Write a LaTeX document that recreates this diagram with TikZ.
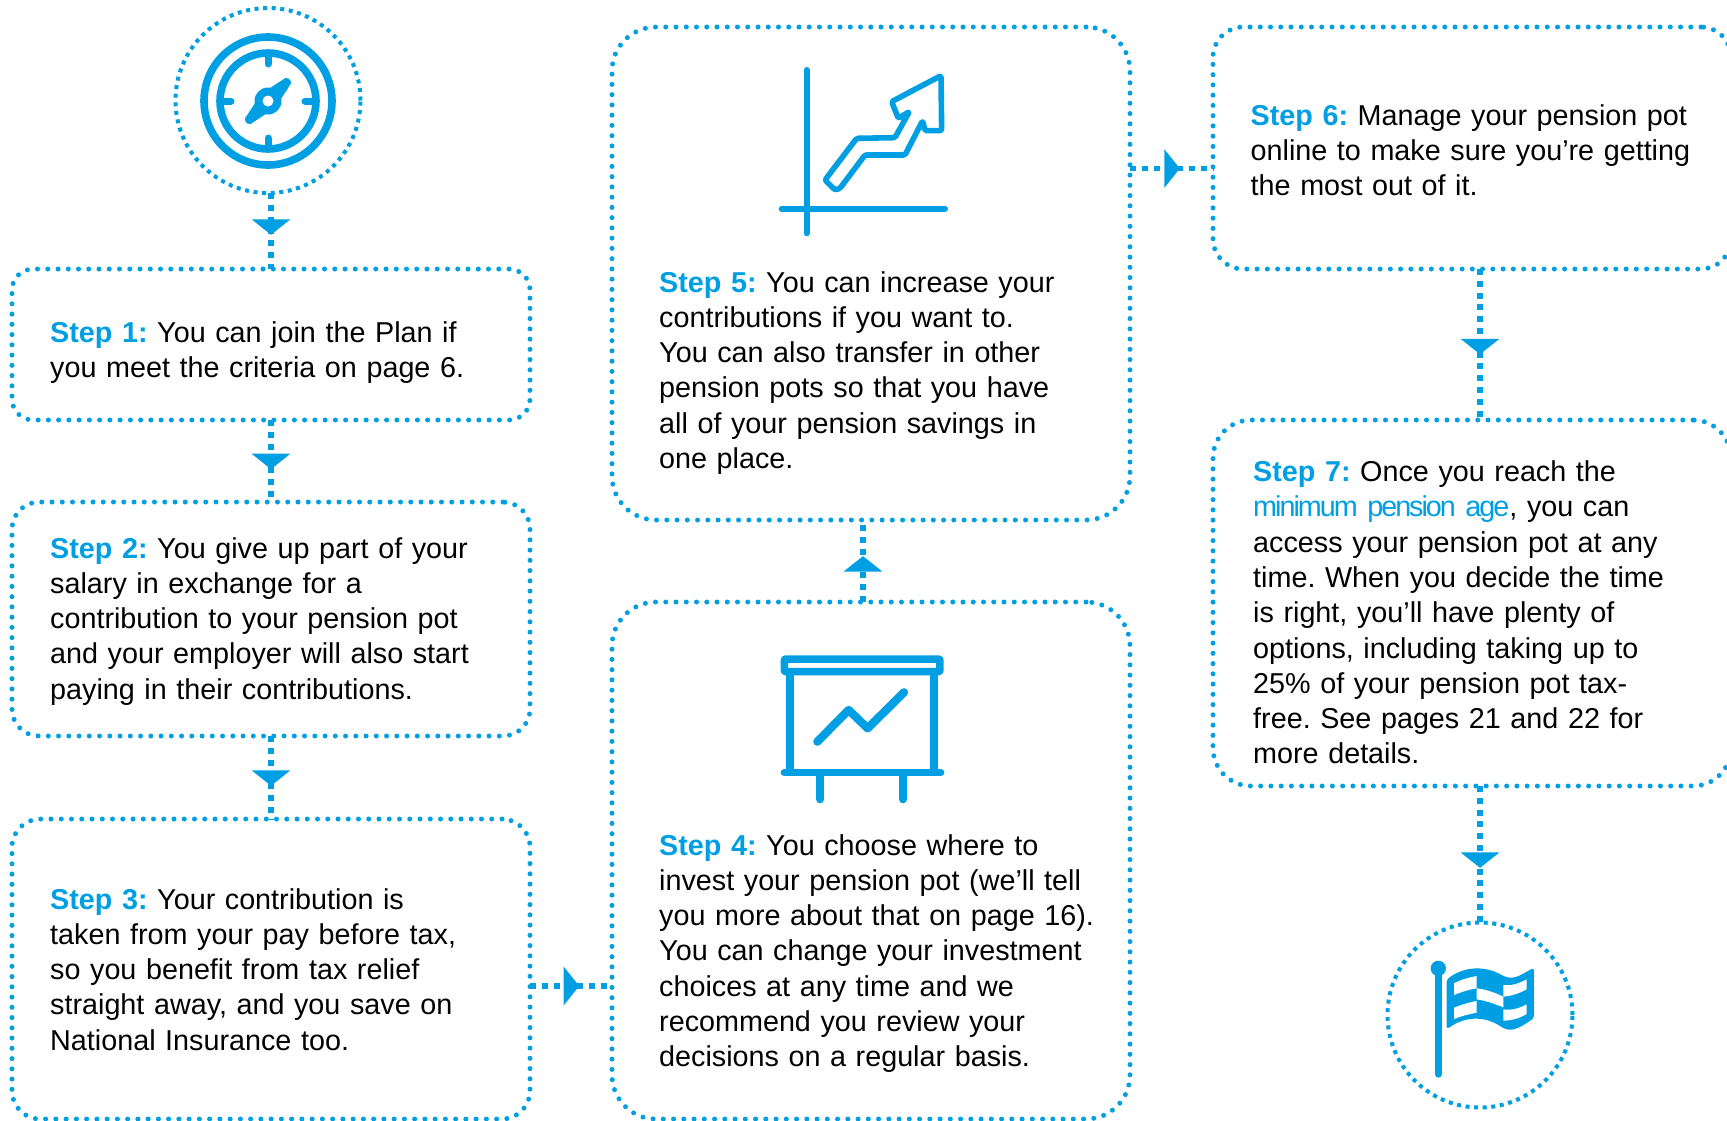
\documentclass[tikz,border=0pt]{standalone}
\usepackage{fontspec}
\setmainfont{Liberation Sans}
\newfontfamily\tightfont[LetterSpace=-7]{Liberation Sans}
\usetikzlibrary{arrows.meta,decorations.markings}
\definecolor{pblue}{RGB}{0,159,227}
\newcommand{\stp}[1]{{\bfseries\color{pblue}Step #1:}}
\tikzset{
  flowhead/.tip={Triangle[width=38pt,length=15.5pt]},
  box/.style={draw=pblue,rectangle,rounded corners=#1,line width=5pt,line cap=round,
    dash pattern=on 0pt off 10.25pt,inner sep=0pt,outer sep=0pt,anchor=north west},
  ring/.style={draw=pblue,circle,line width=4pt,dash pattern=on 4pt off 4.6pt,
    minimum size=185pt,inner sep=0pt,outer sep=0pt},
  conn/.style={draw=pblue,line width=5.8pt,dash pattern=on 6pt off 5.8pt,
    postaction={decorate,decoration={markings,mark=at position #1 with {\arrow{flowhead}}}}},
  txt/.style={anchor=base west,inner sep=0pt,text width=500pt,align=left,
    font=\fontsize{28.75}{35.3}\selectfont\frenchspacing,text=black},
  ico/.style={draw=pblue,line cap=round,line join=round,line width=#1},
}
\begin{document}
\begin{tikzpicture}[x=1pt,y=-1pt]
\useasboundingbox (0,0) rectangle (1727,1120);
\clip (0,0) rectangle (1727,1120);
% boxes
\node[box=21pt,minimum width=518pt,minimum height=151pt] (b1) at (12,269) {};
\node[box=27pt,minimum width=518pt,minimum height=234pt] (b2) at (12,502) {};
\node[box=28pt,minimum width=518pt,minimum height=300pt] (b3) at (12,819) {};
\node[box=44pt,minimum width=518pt,minimum height=517pt] (b4) at (612,602) {};
\node[box=44pt,minimum width=518pt,minimum height=493pt] (b5) at (612,27) {};
\node[box=30pt,minimum width=518pt,minimum height=242pt] (b6) at (1213,27) {};
\node[box=38pt,minimum width=518pt,minimum height=366pt] (b7) at (1213,420) {};
\node[ring] (c1) at (268,100.5) {};
\node[ring] (c2) at (1480,1015) {};
% connectors
\coordinate (a34) at (530,986);
\coordinate (a56) at (1130,168.5);
\coordinate (a45) at (863,602);
\draw[conn=0.55] (b1.north |- c1.south) -- (b1.north);
\draw[conn=0.60] (b1.south) -- (b2.north);
\draw[conn=0.60] (b2.south) -- (b3.north);
\draw[conn=0.60] (a34) -- (a34 -| b4.west);
\draw[conn=0.56] (a45) -- (a45 |- b5.south);
\draw[conn=0.60] (a56) -- (a56 -| b6.west);
\draw[conn=0.565] (c2.north |- b6.south) -- (c2.north |- b7.north);
\draw[conn=0.60] (c2.north |- b7.south) -- (c2.north);
% text
\node[txt] (t1) at (50,342) {\stp{1} You can join the Plan if\\you meet the criteria on page 6.};
\node[txt] (t2) at (50,558) {\stp{2} You give up part of your\\salary in exchange for a\\contribution to your pension pot\\and your employer will also start\\paying in their contributions.};
\node[txt] (t3) at (50,909) {\stp{3} Your contribution is\\taken from your pay before tax,\\so you benefit from tax relief\\straight away, and you save on\\National Insurance too.};
\node[txt] (t4) at (659,855) {\stp{4} You choose where to\\invest your pension pot (we’ll tell\\you more about that on page 16).\\You can change your investment\\choices at any time and we\\recommend you review your\\decisions on a regular basis.};
\node[txt] (t5) at (659,292) {\stp{5} You can increase your\\contributions if you want to.\\You can also transfer in other\\pension pots so that you have\\all of your pension savings in\\one place.};
\node[txt] (t6) at (1250.5,125) {\stp{6} Manage your pension pot\\online to make sure you’re getting\\the most out of it.};
\node[txt] (t7) at (1253,481.5) {\stp{7} Once you reach the\\{\tightfont\color{pblue}minimum pension age}, you can\\access your pension pot at any\\time. When you decide the time\\is right, you’ll have plenty of\\options, including taking up to\\25\% of your pension pot tax-\\free. See pages 21 and 22 for\\more details.};
% compass icon
\begin{scope}[shift={(268,101)}]
\draw[ico=7.6pt] (0,0) circle (64);
\draw[ico=7.6pt] (0,0) circle (48);
\draw[ico=7pt] (0,-48)--(0,-37) (0,48)--(0,37) (-48,0)--(-37,0) (48,0)--(37,0);
\fill[pblue] (0,0) circle (13.5);
\fill[pblue,rounded corners=2pt] (-7,-7) -- (19,-24) -- (24,-19) -- (7,7) -- cycle;
\fill[pblue,rounded corners=2pt] (-7,-7) -- (-24,19) -- (-19,24) -- (7,7) -- cycle;
\fill[white] (0,0) circle (5.5);
\end{scope}
% chart icon
\begin{scope}[shift={(750,40)},x=0.3333pt,y=-0.3333pt]
\draw[ico=6pt] (170,90)--(170,580);
\draw[ico=6pt] (95,506)--(585,506);
\draw[ico=5.6pt,rounded corners=1.5pt] (225,420) -- (320,295) -- (435,293) -- (478,215) -- (445,235) -- (425,185) -- (573,107) -- (575,272) -- (525,272) -- (518,242) -- (465,345) -- (345,345) -- (270,445) -- (255,450) -- cycle;
\end{scope}
% presentation icon
\begin{scope}[shift={(750,630)},x=0.3333pt,y=-0.3333pt]
\draw[ico=7.5pt,line cap=butt,rounded corners=1pt] (103,87) rectangle (570,125);
\draw[ico=7.5pt,line cap=butt] (120,130)--(120,425) (552,130)--(552,425);
\draw[ico=7.5pt] (103,428)--(572,428);
\draw[ico=8pt] (211,432)--(211,508) (459,432)--(459,508);
\draw[ico=8.3pt] (202,335)--(296,240)--(353,295)--(462,187);
\end{scope}
% flag icon
\begin{scope}[shift={(1360,900)},x=0.3333pt,y=-0.3333pt]
\draw[ico=7.5pt] (235,205)--(235,522);
\fill[pblue] (235,205) circle (23);
\fill[pblue,rounded corners=3pt] (260,238) .. controls (320,195) and (380,200) .. (430,228) .. controls (465,240) and (490,220) .. (522,203) -- (522,355) .. controls (490,375) and (465,395) .. (430,385) .. controls (380,350) and (320,345) .. (260,388) -- cycle;
\fill[white] (282,250) .. controls (305,238) and (328,232) .. (350,228) -- (350,265) .. controls (328,268) and (305,276) .. (282,285) -- cycle;
\fill[white] (350,265) .. controls (378,268) and (405,278) .. (430,290) -- (430,322) .. controls (405,312) and (378,302) .. (350,298) -- cycle;
\fill[white] (430,255) .. controls (455,258) and (478,250) .. (500,238) -- (500,268) .. controls (478,280) and (455,288) .. (430,290) -- cycle;
\fill[white] (282,323) .. controls (305,314) and (328,307) .. (350,303) -- (350,338) .. controls (328,342) and (305,348) .. (282,357) -- cycle;
\fill[white] (430,328) .. controls (455,332) and (478,325) .. (500,313) -- (500,342) .. controls (478,355) and (455,362) .. (430,362) -- cycle;
\end{scope}
\end{tikzpicture}
\end{document}
